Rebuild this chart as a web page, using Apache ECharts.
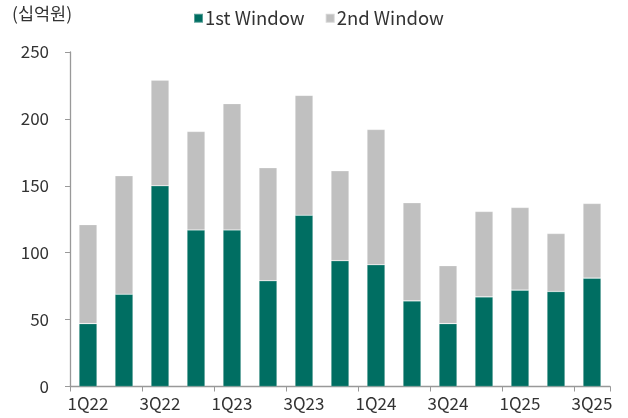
<!DOCTYPE html>
<html><head><meta charset="utf-8">
<script src="https://cdn.jsdelivr.net/npm/echarts@6/dist/echarts.min.js"></script>
<style>html,body{margin:0;padding:0;background:#fff}#c{width:628px;height:418px}</style>
</head><body><div id="c"></div>
<script>
const categories = ['1Q22','2Q22','3Q22','4Q22','1Q23','2Q23','3Q23','4Q23','1Q24','2Q24','3Q24','4Q24','1Q25','2Q25','3Q25'];
const firstWindow = [47, 69, 150, 117, 117, 79, 128, 94, 91, 64, 47, 67, 72, 71, 81];
const secondWindow = [74, 88.5, 79, 73.6, 94.4, 84.5, 89.6, 67.2, 101.1, 73.3, 43.3, 63.8, 61.8, 43.3, 55.8];
const yTicks = [0, 50, 100, 150, 200, 250];
const unitLabel = '(십억원)';

const font = '"Noto Sans CJK KR", "Open Sans", sans-serif';
const chart = echarts.init(document.getElementById('c'), null, {renderer: 'canvas'});
chart.setOption({
  animation: false,
  textStyle: {fontFamily: font},
  grid: {left: 70, right: 18, top: 52, bottom: 31.5, containLabel: false},
  graphic: [{type: 'text', left: 12, top: 5, style: {text: unitLabel, font: '17.5px ' + font, fill: '#333'}}],
  legend: {
    top: 4, left: 188, itemWidth: 9, itemHeight: 9, itemGap: 20,
    icon: 'rect',
    textStyle: {fontSize: 18.5, color: '#333', fontFamily: font, padding: [0,0,0,-3]},
    data: ['1st Window', '2nd Window']
  },
  xAxis: {
    type: 'category', data: categories,
    axisLine: {lineStyle: {color: '#999', width: 1.3}},
    axisTick: {show: true, interval: 1, length: 5, lineStyle: {color: '#999'}},
    axisLabel: {interval: 1, fontSize: 17, color: '#333', margin: 9, fontFamily: font}
  },
  yAxis: {
    type: 'value', min: yTicks[0], max: yTicks[yTicks.length-1], interval: 50,
    splitLine: {show: false},
    axisLine: {show: true, lineStyle: {color: '#999', width: 1.3}},
    axisTick: {show: true, length: 5, lineStyle: {color: '#999'}},
    axisLabel: {fontSize: 17, color: '#333', margin: 21, fontFamily: font}
  },
  series: [
    {name: '1st Window', type: 'bar', stack: 't', data: firstWindow, barWidth: '50%',
     itemStyle: {color: '#006E62', borderColor: 'rgba(255,255,255,0.35)', borderWidth: 0.6}},
    {name: '2nd Window', type: 'bar', stack: 't', data: secondWindow, barWidth: '50%',
     itemStyle: {color: '#C0C0C0', borderColor: 'rgba(255,255,255,0.35)', borderWidth: 0.6}}
  ]
});
</script></body></html>
